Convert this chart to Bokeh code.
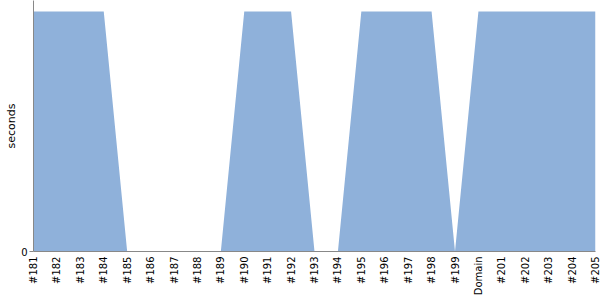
import math
from bokeh.plotting import figure
from bokeh.models import Range1d, FixedTicker
from bokeh.embed import file_html
from bokeh.resources import INLINE

labels = ["#181", "#182", "#183", "#184", "#185", "#186", "#187", "#188", "#189",
          "#190", "#191", "#192", "#193", "#194", "#195", "#196", "#197", "#198",
          "#199", "Domain", "#201", "#202", "#203", "#204", "#205"]
values = [1, 1, 1, 1, 0, 0, 0, 0, 0, 1, 1, 1, 0, 0, 1, 1, 1, 1, 0, 1, 1, 1, 1, 1, 1]

xs = list(range(len(labels)))

p = figure(frame_width=562, frame_height=251, output_backend="svg", toolbar_location=None,
           x_range=Range1d(0, len(labels) - 1), y_range=Range1d(0, 1.046),
           min_border_left=33, min_border_right=5, min_border_top=0, min_border_bottom=49)

p.varea(x=xs, y1=[0] * len(xs), y2=values, fill_color="#8fb1da", fill_alpha=1.0)

p.xgrid.visible = False
p.ygrid.visible = False
p.outline_line_color = None
p.background_fill_color = "white"
p.border_fill_color = "white"

xa = p.xaxis[0]
xa.ticker = FixedTicker(ticks=xs)
xa.major_label_overrides = {i: l for i, l in enumerate(labels)}
xa.major_label_orientation = math.pi / 2
xa.major_tick_in = 0
xa.major_tick_out = 0
xa.major_tick_line_color = None
xa.minor_tick_line_color = None
xa.axis_line_color = "#888888"
xa.major_label_text_font = "DejaVu Sans"
xa.major_label_text_font_size = "10px"
xa.major_label_text_color = "#000000"
xa.major_label_standoff = 5

ya = p.yaxis[0]
ya.ticker = FixedTicker(ticks=[0])
ya.axis_label = "seconds"
ya.axis_label_text_font = "DejaVu Sans"
ya.axis_label_text_font_style = "normal"
ya.axis_label_text_font_size = "11px"
ya.axis_label_text_color = "#000000"
ya.axis_label_standoff = 0
ya.major_tick_in = 0
ya.major_tick_out = 4
ya.major_tick_line_color = "#888888"
ya.minor_tick_line_color = None
ya.axis_line_color = "#888888"
ya.major_label_text_font = "DejaVu Sans"
ya.major_label_text_font_size = "10px"
ya.major_label_text_color = "#000000"
ya.major_label_standoff = 2

open("out.html", "w").write(file_html(p, INLINE))
